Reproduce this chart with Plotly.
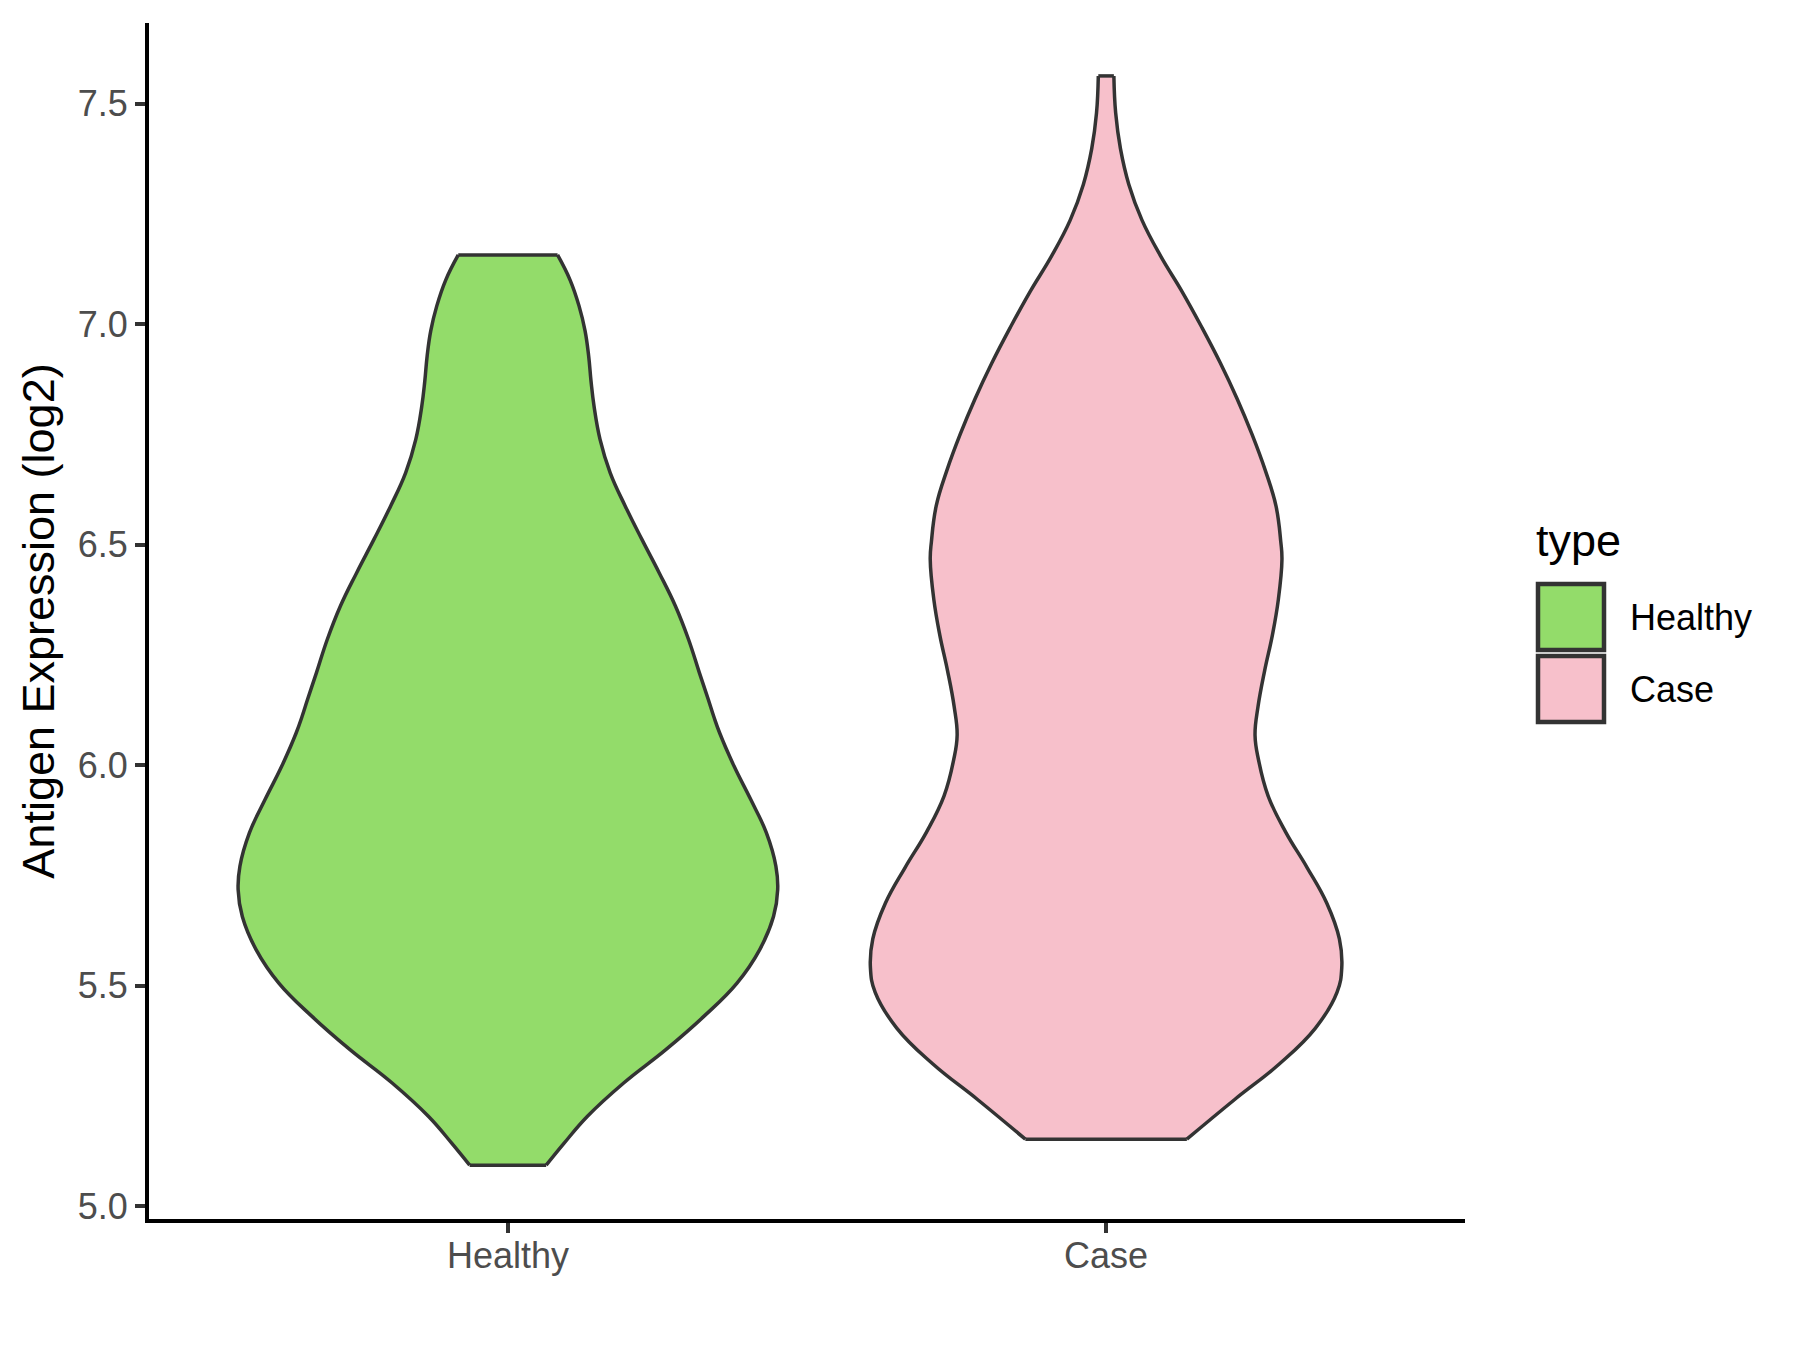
import plotly.graph_objects as go

# ---------------- data ----------------
categories = ["Healthy", "Case"]
colors = ["#93DC6A", "#F7C0CB"]

healthy_y = [5.093, 5.143, 5.204, 5.280, 5.355, 5.431, 5.506, 5.582, 5.657, 5.718,
             5.771, 5.847, 5.922, 5.998, 6.073, 6.111, 6.149, 6.210, 6.285, 6.361,
             6.436, 6.512, 6.588, 6.663, 6.739, 6.814, 6.870, 6.928, 6.985, 7.041,
             7.100, 7.157]
healthy_hw = [0.064, 0.094, 0.133, 0.194, 0.264, 0.328, 0.383, 0.421, 0.444, 0.451,
              0.448, 0.432, 0.406, 0.378, 0.354, 0.344, 0.335, 0.320, 0.302, 0.280,
              0.253, 0.224, 0.196, 0.171, 0.154, 0.144, 0.139, 0.135, 0.129, 0.119,
              0.104, 0.083]

case_y = [5.152, 5.242, 5.323, 5.404, 5.485, 5.541, 5.606, 5.687, 5.768, 5.849,
          5.930, 6.011, 6.068, 6.133, 6.214, 6.295, 6.376, 6.467, 6.507, 6.588,
          6.669, 6.750, 6.831, 6.912, 6.993, 7.074, 7.155, 7.236, 7.317, 7.398,
          7.479, 7.563]
case_hw = [0.135, 0.215, 0.290, 0.350, 0.386, 0.394, 0.390, 0.369, 0.336, 0.300,
           0.271, 0.255, 0.249, 0.254, 0.265, 0.278, 0.288, 0.294, 0.292, 0.284,
           0.266, 0.244, 0.219, 0.191, 0.160, 0.127, 0.091, 0.060, 0.038, 0.024,
           0.016, 0.013]

y_ticks = [5.0, 5.5, 6.0, 6.5, 7.0, 7.5]
y_tick_labels = ["5.0", "5.5", "6.0", "6.5", "7.0", "7.5"]

profiles = [(healthy_y, healthy_hw), (case_y, case_hw)]

# ---------------- figure ----------------
W, H = 1800, 1350
OFF = 8  # page body margin
L, R, T, B = 149 - OFF, 335 + OFF, 23 - OFF, 131 + OFF
FONT = "Liberation Sans, Arial, sans-serif"
OUTLINE = "#333333"
LW = 3.5

fig = go.Figure()
for i, (name, col, (ys, hws)) in enumerate(zip(categories, colors, profiles)):
    center = i + 1
    left_x = [center - h for h in hws]
    right_x = [center + h for h in hws]
    # fill body
    fig.add_trace(go.Scatter(
        x=left_x + right_x[::-1], y=list(ys) + list(ys)[::-1],
        mode="lines", fill="toself", fillcolor=col, line=dict(width=0),
        name=name, showlegend=False, hoverinfo="skip",
    ))
    # smooth sides
    for sx in (left_x, right_x):
        fig.add_trace(go.Scatter(
            x=sx, y=ys, mode="lines",
            line=dict(color=OUTLINE, width=LW, shape="spline", smoothing=1.2),
            showlegend=False, hoverinfo="skip",
        ))
    # flat ends (trimmed at the data min / max)
    for k in (0, -1):
        fig.add_trace(go.Scatter(
            x=[left_x[k], right_x[k]], y=[ys[k], ys[k]], mode="lines",
            line=dict(color=OUTLINE, width=LW), showlegend=False, hoverinfo="skip",
        ))

fig.update_layout(
    width=W, height=H,
    margin=dict(l=L, r=R, t=T, b=B, pad=0),
    paper_bgcolor="white", plot_bgcolor="white",
    font=dict(family=FONT, color="black"),
    showlegend=False,
)
fig.update_xaxes(
    range=[0.4, 2.6], tickmode="array", tickvals=[1, 2], ticktext=categories,
    showgrid=False, zeroline=False, showline=True, linecolor="black", linewidth=4,
    ticks="outside", ticklen=10, tickwidth=4, tickcolor=OUTLINE,
    tickfont=dict(family=FONT, size=36, color="#4D4D4D"), ticklabelstandoff=-8,
)
fig.update_yaxes(
    range=[4.971, 7.683], tickmode="array", tickvals=y_ticks, ticktext=y_tick_labels,
    showgrid=False, zeroline=False, showline=True, linecolor="black", linewidth=4,
    ticks="outside", ticklen=10, tickwidth=4, tickcolor=OUTLINE,
    tickfont=dict(family=FONT, size=36, color="#4D4D4D"), ticklabelstandoff=0,
    title=dict(text="Antigen Expression (log2)", font=dict(family=FONT, size=45, color="black"),
               standoff=10),
)

# ---------------- legend (drawn in paper coordinates) ----------------
pw, ph = W - L - R, H - T - B
def px(xs):  # screen pixel -> paper
    return (xs - OFF - L) / pw
def py(ys_):
    return (H - B - (ys_ - OFF)) / ph

fig.add_annotation(x=px(1534), y=py(540), xref="paper", yref="paper", text="type",
                   showarrow=False, xanchor="left", yanchor="middle",
                   font=dict(family=FONT, size=45, color="black"))
key_tops = [584, 656]
for name, col, top in zip(categories, colors, key_tops):
    fig.add_shape(type="rect", xref="paper", yref="paper",
                  x0=px(1538), x1=px(1604), y0=py(top), y1=py(top + 66),
                  fillcolor=col, line=dict(color=OUTLINE, width=4.5))
    fig.add_annotation(x=px(1628), y=py(top + 33), xref="paper", yref="paper", text=name,
                       showarrow=False, xanchor="left", yanchor="middle",
                       font=dict(family=FONT, size=36, color="black"))

fig.write_html("out.html")
